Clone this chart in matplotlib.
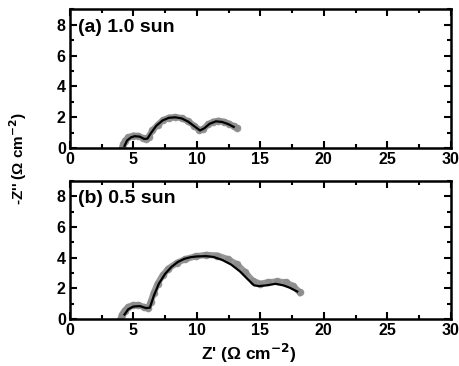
import matplotlib.pyplot as plt
from matplotlib.ticker import MultipleLocator

# (a) 1.0 sun - measured points and fit
z_re_a = [4.1, 4.2, 4.35, 4.6, 5.0, 5.4, 5.75, 6.0, 6.2, 6.5, 6.9, 7.3, 7.8, 8.3,
          8.8, 9.3, 9.8, 10.2, 10.5, 10.9, 11.3, 11.7, 12.1, 12.5, 12.9, 13.15]
z_im_a = [0.0, 0.25, 0.5, 0.7, 0.82, 0.8, 0.65, 0.6, 0.75, 1.15, 1.5, 1.8, 1.98, 2.02,
          1.95, 1.75, 1.45, 1.18, 1.25, 1.55, 1.72, 1.78, 1.72, 1.6, 1.42, 1.32]
fit_re_a = [4.3, 4.5, 4.8, 5.1, 5.5, 5.85, 6.1, 6.4, 6.8, 7.3, 7.8, 8.3, 8.8, 9.3,
            9.8, 10.25, 10.6, 11.0, 11.5, 12.0, 12.5, 12.9]
fit_im_a = [0.15, 0.5, 0.7, 0.78, 0.75, 0.6, 0.62, 1.0, 1.45, 1.8, 1.97, 2.0, 1.93, 1.73,
            1.42, 1.15, 1.3, 1.58, 1.74, 1.7, 1.55, 1.38]

# (b) 0.5 sun - measured points and fit
z_re_b = [4.0, 4.1, 4.3, 4.6, 5.0, 5.4, 5.8, 6.15, 6.35, 6.6, 6.9, 7.3, 7.76, 8.42,
          9.08, 9.9, 10.75, 11.6, 12.45, 13.15, 13.8, 14.4, 15.0, 15.6, 16.3, 17.0,
          17.6, 18.1]
z_im_b = [0.05, 0.3, 0.55, 0.8, 0.92, 0.92, 0.8, 0.7, 1.1, 1.7, 2.3, 2.85, 3.29, 3.66,
          3.9, 4.09, 4.18, 4.14, 3.9, 3.57, 3.05, 2.5, 2.3, 2.4, 2.45, 2.4,
          2.15, 1.74]
fit_re_b = [4.3, 4.6, 5.0, 5.5, 6.0, 6.3, 6.6, 7.0, 7.5, 8.0, 8.5, 9.0, 9.5, 10.0,
            10.7, 11.3, 12.0, 12.7, 13.4, 14.0, 14.5, 14.9, 15.5, 16.2, 16.8, 17.3, 17.9]
fit_im_b = [0.3, 0.65, 0.82, 0.85, 0.72, 0.75, 1.5, 2.3, 2.95, 3.4, 3.72, 3.92, 4.03, 4.08,
            4.1, 4.05, 3.85, 3.55, 3.1, 2.6, 2.2, 2.15, 2.2, 2.3, 2.2, 2.05, 1.8]

labels = ['(a) 1.0 sun', '(b) 0.5 sun']

plt.rcParams['font.family'] = ['Liberation Sans', 'DejaVu Sans']
plt.rcParams['font.weight'] = 'bold'

fig = plt.figure(figsize=(4.6, 3.66), dpi=100)
ax_a = fig.add_axes([0.152, 0.595, 0.828, 0.38])
ax_b = fig.add_axes([0.152, 0.128, 0.828, 0.378])

panels = [(ax_a, z_re_a, z_im_a, fit_re_a, fit_im_a),
          (ax_b, z_re_b, z_im_b, fit_re_b, fit_im_b)]

for (ax, xr, yi, fx, fy), lab in zip(panels, labels):
    ax.plot(xr, yi, 'o', color='#8c8c8c', markersize=5.5, markeredgewidth=0, alpha=0.9)
    ax.plot(xr, yi, '-', color='#8c8c8c', linewidth=4.5, alpha=0.9)
    ax.plot(fx, fy, '-', color='black', linewidth=1.6)
    ax.set_xlim(0, 30)
    ax.set_ylim(0, 9)
    ax.xaxis.set_major_locator(MultipleLocator(5))
    ax.xaxis.set_minor_locator(MultipleLocator(2.5))
    ax.yaxis.set_major_locator(MultipleLocator(2))
    ax.yaxis.set_minor_locator(MultipleLocator(1))
    ax.tick_params(which='both', direction='in', top=True, right=True,
                   labelsize=11.5, width=1.5, pad=3)
    ax.tick_params(which='major', length=5)
    ax.tick_params(which='minor', length=3)
    for s in ax.spines.values():
        s.set_linewidth(1.8)
    for t in ax.get_xticklabels() + ax.get_yticklabels():
        t.set_fontweight('bold')
    ax.text(0.02, 0.87, lab, transform=ax.transAxes, fontsize=14,
            fontweight='bold', va='center', ha='left')

fig.text(0.541, 0.035, "Z' (\u03a9 cm$^{\\mathbf{-2}}$)", fontsize=12.5,
         fontweight='bold', ha='center', va='center')
fig.text(0.04, 0.568, "-Z'' (\u03a9 cm$^{\\mathbf{-2}}$)", rotation=90, fontsize=11,
         fontweight='bold', ha='center', va='center')

fig.savefig('out.png', dpi=100)
